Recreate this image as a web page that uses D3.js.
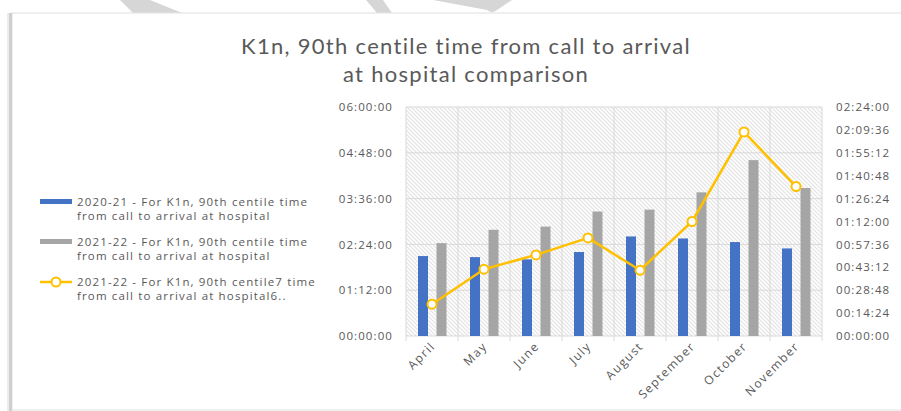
<!DOCTYPE html>
<html>
<head>
<meta charset="utf-8">
<script src="https://cdn.jsdelivr.net/npm/d3@7"></script>
<style>
  html, body { margin: 0; padding: 0; background: #fff; }
  svg { display: block; }
</style>
</head>
<body>
<svg id="chart" width="901" height="411"></svg>
<script>
// Months of the reporting year
const months = ["April", "May", "June", "July", "August", "September", "October", "November"];

// 90th centile call-to-arrival times (h:mm:ss)
const series2020 = ["2:05:40", "2:04:00", "2:00:30", "2:12:00", "2:36:30", "2:33:20", "2:27:40", "2:17:40"];
const series2021 = ["2:26:00", "2:47:00", "2:52:00", "3:15:40", "3:18:40", "3:45:50", "4:36:30", "3:52:40"];
// Line series on the secondary axis
const series2021b = ["0:20:00", "0:42:00", "0:51:00", "1:01:40", "0:41:20", "1:12:00", "2:08:20", "1:34:00"];

// Axis tick values (seconds)
const leftTicks = [0, 4320, 8640, 12960, 17280, 21600];
const rightTicks = [0, 864, 1728, 2592, 3456, 4320, 5184, 6048, 6912, 7776, 8640];

const legendLabels = [
  ["2020-21 - For K1n, 90th centile time", "from call to arrival at hospital"],
  ["2021-22 - For K1n, 90th centile time", "from call to arrival at hospital"],
  ["2021-22 - For K1n, 90th centile7 time", "from call to arrival at hospital6.."]
];

const toSec = s => { const p = s.split(":").map(Number); return p[0] * 3600 + p[1] * 60 + p[2]; };
const pad = n => String(n).padStart(2, "0");
const fmt = s => pad(Math.floor(s / 3600)) + ":" + pad(Math.floor((s % 3600) / 60)) + ":" + pad(s % 60);

const svg = d3.select("#chart");
const textCol = "#595959";
const font = "Lato, 'Open Sans', sans-serif";
const labelFont = "'Open Sans', sans-serif";

// Page decorations: faint shapes above the frame
const deco = svg.append("g").attr("fill", "#d6d6d6");
deco.append("polygon").attr("points", "120,0 150,0 182,13 133,13");
deco.append("polygon").attr("points", "366,0 383,0 392,13 377,13");
deco.append("path").attr("d", "M433,0 L512,0 L497,10 Q492,14 487,10 Z");

// Frame
svg.append("rect").attr("x", 12).attr("y", 13).attr("width", 900).attr("height", 397)
  .attr("fill", "#fff").attr("stroke", "#e4e4e4").attr("stroke-width", 1.2);
svg.append("rect").attr("x", 9).attr("y", 13).attr("width", 3).attr("height", 398).attr("fill", "#cfcfcf");
svg.append("rect").attr("x", 7).attr("y", 13).attr("width", 2).attr("height", 398).attr("fill", "#ececec");

// Title
const title = svg.append("text").attr("font-family", font).attr("font-size", 22)
  .attr("letter-spacing", 1.3).attr("fill", textCol).attr("text-anchor", "middle");
title.append("tspan").attr("x", 466).attr("y", 54).text("K1n, 90th centile time from call to arrival");
title.append("tspan").attr("x", 466).attr("y", 82).text("at hospital comparison");

// Plot geometry
const plot = { left: 406, right: 822, top: 107, bottom: 336 };

const x = d3.scaleBand().domain(months).range([plot.left, plot.right]).paddingInner(0).paddingOuter(0);
const yL = d3.scaleLinear().domain([0, 21600]).range([plot.bottom, plot.top]);
const yR = d3.scaleLinear().domain([0, 8640]).range([plot.bottom, plot.top]);

// Hatched plot background
const defs = svg.append("defs");
const pat = defs.append("pattern").attr("id", "hatch").attr("patternUnits", "userSpaceOnUse")
  .attr("width", 4).attr("height", 4);
pat.append("rect").attr("width", 4).attr("height", 4).attr("fill", "#ffffff");
pat.append("path").attr("d", "M-1,-1 L5,5 M3,-1 L5,1 M-1,3 L1,5")
  .attr("stroke", "#e2e2e2").attr("stroke-width", 1.1);
svg.append("rect").attr("x", plot.left).attr("y", plot.top)
  .attr("width", plot.right - plot.left).attr("height", plot.bottom - plot.top)
  .attr("fill", "url(#hatch)");

// Gridlines
const grid = svg.append("g").attr("stroke", "#d9d9d9").attr("stroke-width", 1);
leftTicks.forEach(t => {
  grid.append("line").attr("x1", plot.left).attr("x2", plot.right)
    .attr("y1", yL(t)).attr("y2", yL(t));
});
const bounds = months.map(m => x(m)).concat([plot.right]);
bounds.forEach(b => {
  grid.append("line").attr("x1", b).attr("x2", b).attr("y1", plot.top).attr("y2", plot.bottom + 5);
});

// Bars
const bw = 10;
const bars = svg.append("g");
bars.selectAll("rect.b20").data(series2020).join("rect")
  .attr("x", (d, i) => x(months[i]) + x.bandwidth() / 2 - 9 - bw / 2)
  .attr("y", d => yL(toSec(d)))
  .attr("width", bw)
  .attr("height", d => plot.bottom - yL(toSec(d)))
  .attr("fill", "#4472C4");
bars.selectAll("rect.b21").data(series2021).join("rect")
  .attr("x", (d, i) => x(months[i]) + x.bandwidth() / 2 + 9.5 - bw / 2)
  .attr("y", d => yL(toSec(d)))
  .attr("width", bw)
  .attr("height", d => plot.bottom - yL(toSec(d)))
  .attr("fill", "#A5A5A5");

// Line on secondary axis
const cx = i => x(months[i]) + x.bandwidth() / 2;
const line = d3.line().x((d, i) => cx(i)).y(d => yR(toSec(d)));
svg.append("path").datum(series2021b).attr("d", line)
  .attr("fill", "none").attr("stroke", "#FFC000").attr("stroke-width", 2.5)
  .attr("stroke-linejoin", "round");
svg.append("g").selectAll("circle").data(series2021b).join("circle")
  .attr("cx", (d, i) => cx(i)).attr("cy", d => yR(toSec(d))).attr("r", 4.5)
  .attr("fill", "#fff").attr("stroke", "#FFC000").attr("stroke-width", 2);

// Axes
const axisStyle = g => {
  g.select(".domain").remove();
  g.selectAll(".tick line").remove();
  g.selectAll(".tick text").attr("font-family", labelFont)
    .attr("font-size", 11.5).attr("letter-spacing", 1.1).attr("fill", textCol);
};
svg.append("g").attr("transform", `translate(${plot.left - 13},0)`)
  .call(d3.axisLeft(yL).tickValues(leftTicks).tickFormat(fmt).tickSize(0).tickPadding(0))
  .call(axisStyle);
svg.append("g").attr("transform", `translate(${plot.right + 14},0)`)
  .call(d3.axisRight(yR).tickValues(rightTicks).tickFormat(fmt).tickSize(0).tickPadding(0))
  .call(axisStyle);

// Rotated month labels
svg.append("g").selectAll("text").data(months).join("text")
  .attr("transform", m => `translate(${x(m) + x.bandwidth() / 2 + 4},${plot.bottom + 11}) rotate(-45)`)
  .attr("text-anchor", "end")
  .attr("font-family", labelFont).attr("font-size", 12).attr("letter-spacing", 1.4)
  .attr("fill", textCol).text(m => m);

// Legend
const leg = svg.append("g");
const legY = [202, 242, 282];
const legCols = ["#4472C4", "#A5A5A5", "#FFC000"];
legendLabels.forEach((lab, i) => {
  const y0 = legY[i];
  if (i < 2) {
    leg.append("rect").attr("x", 40).attr("y", y0 - 3).attr("width", 32).attr("height", 5).attr("fill", legCols[i]);
  } else {
    leg.append("line").attr("x1", 40).attr("x2", 72).attr("y1", y0).attr("y2", y0)
      .attr("stroke", legCols[i]).attr("stroke-width", 2.5);
    leg.append("circle").attr("cx", 56).attr("cy", y0).attr("r", 4.5)
      .attr("fill", "#fff").attr("stroke", legCols[i]).attr("stroke-width", 2);
  }
  const t = leg.append("text").attr("font-family", labelFont).attr("font-size", 11.5)
    .attr("letter-spacing", 1.15).attr("fill", textCol);
  t.append("tspan").attr("x", 77).attr("y", y0 + 4).text(lab[0]);
  t.append("tspan").attr("x", 77).attr("y", y0 + 18).text(lab[1]);
});
</script>
</body>
</html>
